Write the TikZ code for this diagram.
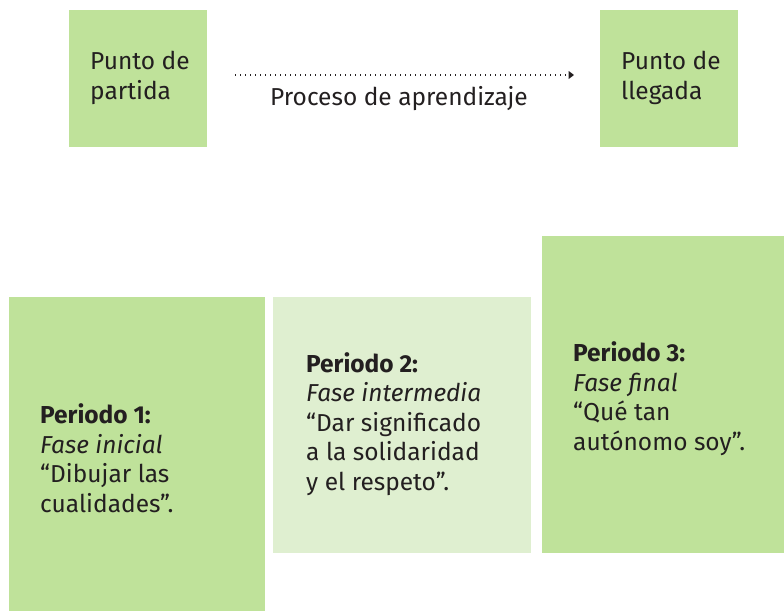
\documentclass[tikz,border=0pt]{standalone}
\usepackage{fontspec}
\setmainfont{Fira Sans}
\usetikzlibrary{arrows.meta}
\definecolor{boxgreen}{HTML}{BFE29A}
\definecolor{boxlight}{HTML}{DFEFD0}
\definecolor{ink}{HTML}{231F20}
\tikzset{
  box/.style={fill=#1, draw=none, inner sep=0pt, anchor=north west},
  txt/.style={text=ink, inner sep=0pt, anchor=base west, align=left,
    font=\fontsize{24.5}{29.4}\selectfont},
}
\begin{document}
\begin{tikzpicture}[x=1pt,y=-1pt]
\useasboundingbox (0,0) rectangle (784,611);
% top boxes
\node[box=boxgreen, minimum width=138pt, minimum height=137pt] (start) at (69,10) {};
\node[box=boxgreen, minimum width=138pt, minimum height=137pt] (goal) at (600,10) {};
% multi-line nodes: base anchor = baseline of last line
\node[txt] (starttxt) at (90,99) {Punto de\\partida};
\node[txt] (goaltxt) at (621,99) {Punto de\\llegada};
% arrow
\coordinate (a1) at (235,75);
\coordinate (a2) at (574,75);
\draw[ink, line width=1.3pt, dash pattern=on 1.3pt off 3.7pt, -{Triangle[length=5.5pt,width=8pt]}] (a1) -- (a2);
\node[txt, anchor=base] (proc) at (399,105) {Proceso de aprendizaje};
% bottom boxes
\node[box=boxgreen, minimum width=256pt, minimum height=314pt] (p1) at (9,297) {};
\node[box=boxlight, minimum width=258pt, minimum height=256pt] (p2) at (273,297) {};
\node[box=boxgreen, minimum width=242pt, minimum height=317pt] (p3) at (542,236) {};
\node[txt] (p1txt) at (40,512) {\textbf{Periodo 1:}\\\textit{Fase inicial}\\“Dibujar las\\cualidades”.};
\node[txt] (p2txt) at (306,490) {\textbf{Periodo 2:}\\\textit{Fase intermedia}\\“Dar significado\\a la solidaridad\\y el respeto”.};
\node[txt] (p3txt) at (573,450) {\textbf{Periodo 3:}\\\textit{Fase final}\\“Qué tan\\autónomo soy”.};
\end{tikzpicture}
\end{document}
